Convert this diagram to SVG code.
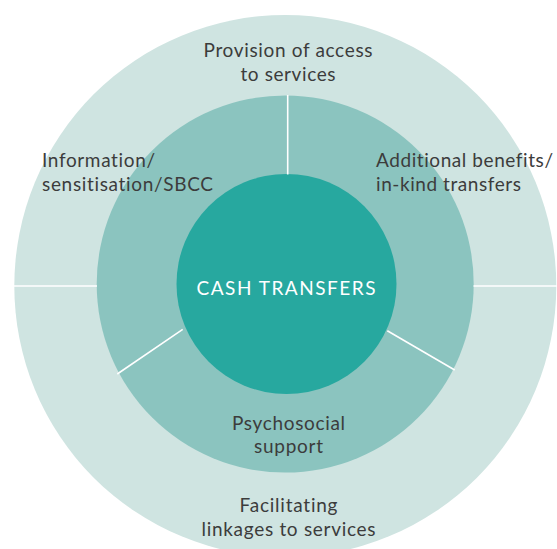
<svg xmlns="http://www.w3.org/2000/svg" width="557" height="549" viewBox="0 0 557 549">
  <style>
    .ring-outer { fill: #cfe4e1; }
    .ring-mid { fill: #8bc4bf; }
    .core { fill: #27a89f; }
    .divider { stroke: #ffffff; stroke-width: 1.6; fill: none; }
    .label { font-family: Lato, "Open Sans", "Liberation Sans", sans-serif; font-size: 19px; fill: #3c3c3c; font-variant-ligatures: none; }
    .core-label { font-family: Lato, "Open Sans", "Liberation Sans", sans-serif; font-size: 19px; fill: #ffffff; letter-spacing: 1px; }
  </style>
  <rect width="557" height="549" fill="#ffffff"/>

  <!-- outer ring: supporting linkages -->
  <g id="outer-ring">
    <circle class="ring-outer" cx="285.3" cy="286" r="271"/>
  </g>

  <!-- middle ring: complementary interventions -->
  <g id="middle-ring">
    <circle class="ring-mid" cx="285.2" cy="284" r="188.5"/>
  </g>

  <!-- centre -->
  <g id="cash-transfers">
    <circle class="core" cx="286.5" cy="284" r="110"/>
    <text class="core-label" x="286.5" y="294.5" text-anchor="middle" textLength="180">CASH TRANSFERS</text>
  </g>

  <!-- segment dividers -->
  <g id="dividers">
    <line class="divider" x1="287.7" y1="95" x2="287.7" y2="174.5"/>
    <line class="divider" x1="14" y1="286" x2="97" y2="286"/>
    <line class="divider" x1="473.5" y1="286" x2="557" y2="286"/>
    <line class="divider" x1="182.7" y1="329.3" x2="117.3" y2="374"/>
    <line class="divider" x1="387.3" y1="330.7" x2="454.7" y2="370"/>
  </g>

  <g id="provision-of-access">
    <text class="label" x="288" y="57.3" text-anchor="middle" textLength="169">Provision of access</text>
    <text class="label" x="288" y="80.7" text-anchor="middle" textLength="95">to services</text>
  </g>

  <g id="information-sbcc">
    <text class="label" x="42" y="166.7" textLength="113">Information/</text>
    <text class="label" x="42" y="190.7" textLength="171">sensitisation/SBCC</text>
  </g>

  <g id="additional-benefits">
    <text class="label" x="376" y="166.7" textLength="177">Additional benefits/</text>
    <text class="label" x="376" y="190.7" textLength="145">in-kind transfers</text>
  </g>

  <g id="psychosocial-support">
    <text class="label" x="288.5" y="430" text-anchor="middle" textLength="113">Psychosocial</text>
    <text class="label" x="288.5" y="453" text-anchor="middle" textLength="69">support</text>
  </g>

  <g id="facilitating-linkages">
    <text class="label" x="288.5" y="512" text-anchor="middle" textLength="98">Facilitating</text>
    <text class="label" x="288.5" y="535.7" text-anchor="middle" textLength="174">linkages to services</text>
  </g>
</svg>
